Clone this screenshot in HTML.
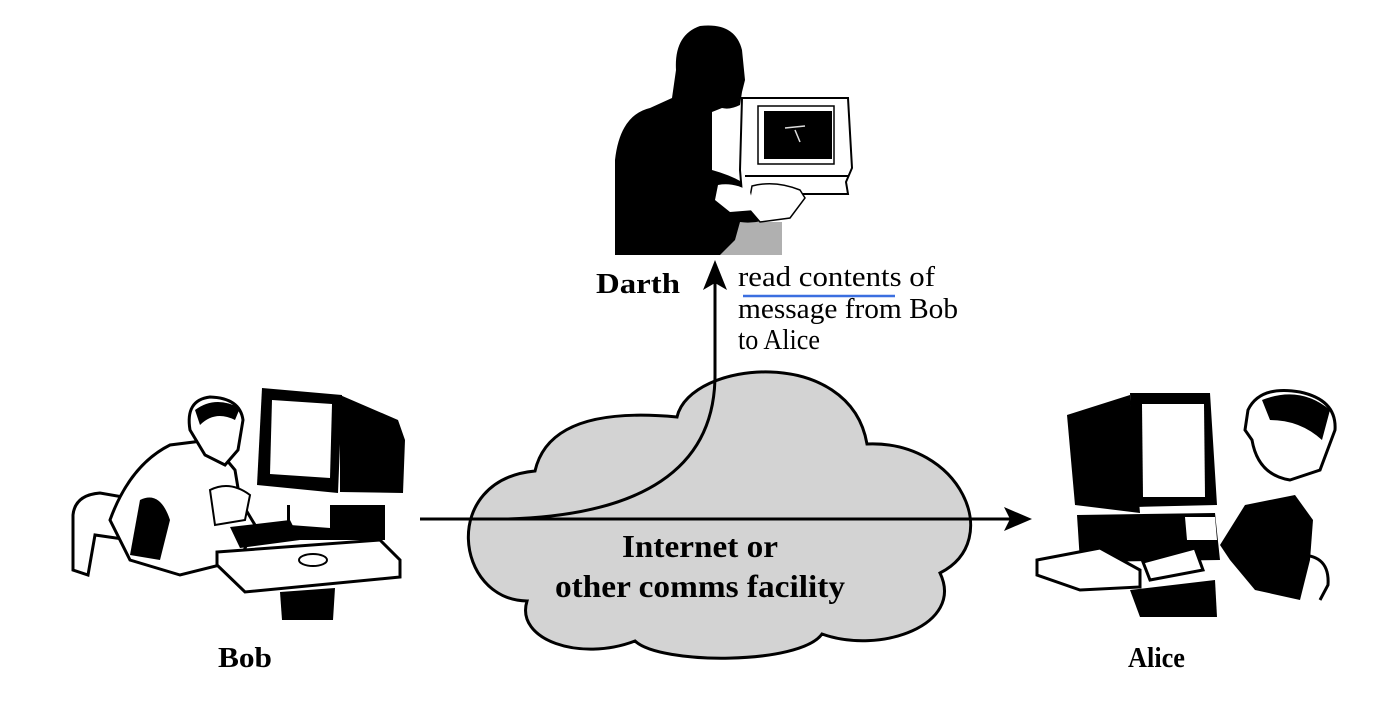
<!DOCTYPE html>
<html><head><meta charset="utf-8"><style>
html,body{margin:0;padding:0;background:#fff;width:1384px;height:702px;overflow:hidden}
svg{display:block}
text{font-family:"Liberation Serif",serif}
</style></head><body>
<svg width="1384" height="702" viewBox="0 0 1384 702" xmlns="http://www.w3.org/2000/svg">
<!-- Darth -->
<rect x="720" y="222" width="62" height="33" fill="#b0b0b0"/>
<path d="M615,255 L615,160 Q620,115 650,108 L672,98 L676,70 Q674,35 700,26 Q735,22 742,50 L745,80 L742,92 L740,105 Q730,110 722,108 L712,112 L712,170 Q730,175 742,182 L780,192 L790,212 Q760,225 740,222 L735,240 L720,255 Z" fill="#000"/>
<path d="M742,98 L848,98 L852,168 L846,182 L848,194 L742,194 L740,170 Z" fill="#fff" stroke="#000" stroke-width="2"/>
<rect x="758" y="106" width="76" height="58" fill="#fff" stroke="#000" stroke-width="1.5"/>
<rect x="764" y="111" width="68" height="48" fill="#000"/>
<path d="M785,128 L805,126 M795,130 L800,142" stroke="#ddd" stroke-width="1.5"/>
<line x1="745" y1="176" x2="848" y2="176" stroke="#000" stroke-width="2"/>
<path d="M752,186 Q775,180 800,190 L805,198 L790,218 L760,222 L748,208 Z" fill="#fff" stroke="#000" stroke-width="1.5"/>
<path d="M718,185 Q735,182 750,192 L755,210 L730,212 L715,200 Z" fill="#fff"/>
<!-- Cloud -->
<path d="M535,471 Q550,405 677,417 C690,360 850,345 867,444 C960,440 1005,540 940,573 C965,625 880,655 822,634 C800,665 660,665 635,641 C580,662 515,640 527,601 C455,600 440,480 535,471 Z" fill="#d3d3d3" stroke="#000" stroke-width="3"/>
<!-- connectors -->
<line x1="420" y1="519" x2="1012" y2="519" stroke="#000" stroke-width="3"/>
<path d="M1032,519 L1004,507 L1010,519 L1004,531 Z" fill="#000"/>
<path d="M508,519 C640,515 715,470 715,375 L715,282" fill="none" stroke="#000" stroke-width="3"/>
<path d="M715,260 L703,290 L715,283 L727,290 Z" fill="#000"/>
<!-- Bob -->
<path d="M73,570 L73,515 Q75,495 100,493 L140,500 L130,540 L95,535 L88,575 Z" fill="#fff" stroke="#000" stroke-width="3"/>
<path d="M110,520 Q130,465 170,445 L210,440 L235,470 L240,500 L255,525 L240,560 L180,575 L130,560 Z" fill="#fff" stroke="#000" stroke-width="3"/>
<path d="M190,430 Q185,400 210,397 Q240,398 243,420 L238,450 L225,465 L205,455 Z" fill="#fff" stroke="#000" stroke-width="3"/>
<path d="M195,410 Q215,395 240,408 L235,420 Q215,410 200,425 Z" fill="#000"/>
<path d="M140,500 Q160,490 170,520 L160,560 L130,555 Z" fill="#000"/>
<path d="M217,552 L380,540 L400,560 L400,577 L245,592 L217,565 Z" fill="#fff" stroke="#000" stroke-width="3"/>
<path d="M280,592 L335,588 L333,620 L282,620 Z" fill="#000"/>
<path d="M287,505 L385,505 L385,540 L300,540 L287,530 Z" fill="#000"/>
<path d="M290,505 L330,500 L330,528 L290,525 Z" fill="#fff"/>
<path d="M230,527 L290,520 L300,540 L240,548 Z" fill="#000"/>
<ellipse cx="313" cy="560" rx="14" ry="6" fill="#fff" stroke="#000" stroke-width="2"/>
<path d="M340,395 L398,420 L405,440 L403,493 L340,492 Z" fill="#000"/>
<path d="M262,388 L342,395 L338,493 L257,485 Z" fill="#000"/>
<path d="M272,400 L332,404 L330,478 L270,474 Z" fill="#fff"/>
<path d="M210,490 Q230,480 250,495 L245,520 L215,525 Z" fill="#fff" stroke="#000" stroke-width="2"/>
<!-- Alice -->
<path d="M1067,415 L1130,395 L1140,513 L1075,505 Z" fill="#000"/>
<path d="M1130,393 L1210,393 L1217,505 L1135,507 Z" fill="#000"/>
<path d="M1142,404 L1204,404 L1205,497 L1143,497 Z" fill="#fff"/>
<path d="M1077,515 L1215,513 L1220,560 L1080,562 Z" fill="#000"/>
<path d="M1185,517 L1215,517 L1217,540 L1187,540 Z" fill="#fff"/>
<path d="M1037,560 L1100,548 L1140,570 L1140,587 L1080,590 L1037,575 Z" fill="#fff" stroke="#000" stroke-width="3"/>
<path d="M1143,562 L1195,548 L1203,570 L1150,580 Z" fill="#fff" stroke="#000" stroke-width="3"/>
<path d="M1130,590 L1215,580 L1217,617 L1140,617 Z" fill="#000"/>
<path d="M1245,505 L1295,495 L1313,520 L1310,560 L1300,600 L1255,590 L1230,560 L1220,545 Z" fill="#000"/>
<path d="M1248,410 Q1260,385 1300,392 Q1337,400 1335,430 L1320,470 L1290,480 Q1258,475 1252,440 L1245,430 Z" fill="#fff" stroke="#000" stroke-width="3"/>
<path d="M1262,400 Q1300,385 1330,410 L1322,440 Q1300,420 1270,420 Z" fill="#000"/>
<path d="M1300,555 Q1330,555 1328,585 L1320,600" fill="none" stroke="#000" stroke-width="3"/>
<!-- Labels -->
<text x="596" y="293" font-size="29" font-weight="bold" textLength="84" lengthAdjust="spacingAndGlyphs">Darth</text>
<text x="738" y="286" font-size="28" textLength="197" lengthAdjust="spacingAndGlyphs">read contents of</text>
<text x="738" y="318" font-size="28" textLength="220" lengthAdjust="spacingAndGlyphs">message from Bob</text>
<text x="738" y="349" font-size="28" textLength="82" lengthAdjust="spacingAndGlyphs">to Alice</text>
<line x1="743" y1="296" x2="895" y2="296" stroke="#3b6fe0" stroke-width="2.5"/>
<text x="622" y="557" font-size="32" font-weight="bold" textLength="156" lengthAdjust="spacingAndGlyphs">Internet or</text>
<text x="555" y="597" font-size="32" font-weight="bold" textLength="290" lengthAdjust="spacingAndGlyphs">other comms facility</text>
<text x="218" y="667" font-size="29" font-weight="bold" textLength="54" lengthAdjust="spacingAndGlyphs">Bob</text>
<text x="1128" y="667" font-size="29" font-weight="bold" textLength="57" lengthAdjust="spacingAndGlyphs">Alice</text>
</svg>
</body></html>
